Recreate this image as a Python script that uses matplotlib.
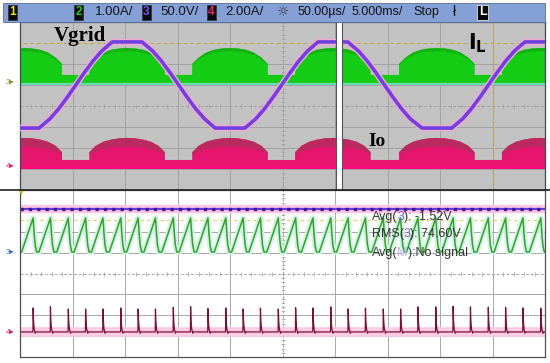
import matplotlib.pyplot as plt
from matplotlib.patches import Rectangle

# header bar of the scope screen
badge_labels = ['1', '2', '3', '4']
badge_x = [8, 74, 142, 207]
badge_colors = ['#e8e020', '#22cc22', '#7a55ee', '#ee2277']
scale_texts = ['1.00A/', '50.0V/', '2.00A/']
scale_x = [95, 160, 225]
time_texts = ['50.00\u00b5s/', '5.000ms/', 'Stop']
time_x = [298, 352, 413]

# upper panel, in divisions (10 x 8, centre = 0)
hump_centers = [0.08, 2.04, 4.00, 5.96, 7.94, 9.90]
hump_dx = [-0.72, -0.60, -0.45, -0.30, -0.15, 0.0, 0.15, 0.30, 0.45, 0.60, 0.72]
il_base, il_flat = 1.10, 1.48
il_hump = [2.00, 2.30, 2.55, 2.68, 2.74, 2.76, 2.74, 2.68, 2.55, 2.30, 2.00]
io_base, io_flat = -2.90, -2.57
io_hump = [-2.20, -1.90, -1.70, -1.60, -1.54, -1.52, -1.54, -1.60, -1.70, -1.90, -2.20]

vg_extremes = [0.08, 2.04, 4.00, 5.96, 7.94, 9.90]   # trough, peak, trough ...
vg_dx = [0.284, 0.491, 0.655, 0.819, 0.983, 1.146, 1.31, 1.474]
vg_fall = [3.05, 2.61, 2.14, 1.59, 1.00, 0.41, -0.14, -0.61]
vg_top, vg_bot = 3.05, -1.05

# lower panel (zoomed view)
tooth_peaks = [0.25, 0.58, 0.92, 1.25, 1.58, 1.92, 2.25, 2.58, 2.92, 3.25,
               3.58, 3.92, 4.25, 4.58, 4.92, 5.25, 5.58, 5.92, 6.25, 6.58,
               6.92, 7.25, 7.58, 7.92, 8.25, 8.58, 8.92, 9.25, 9.58, 9.92]
saw_low, saw_high = 1.03, 2.66
saw_dx = [-0.219, 0.0, 0.02, 0.04, 0.067]
saw_y = [saw_low, saw_high, 1.90, 1.35, saw_low]
spike_base = -2.80
spike_tops = [-1.65, -1.59, -1.70, -1.70, -1.70, -1.65, -1.70, -1.70, -1.62, -1.59,
              -1.68, -1.65, -1.70, -1.66, -1.70, -1.64, -1.65, -1.60, -1.70, -1.66,
              -1.70, -1.70, -1.60, -1.60, -1.57, -1.60, -1.62, -1.62, -1.65, -1.66]
spike_dx = [-0.004, 0.0, 0.008, 0.02, 0.04, 0.055]
vdc_level = 3.09

meas_lines = [[('Avg(', '#333333'), ('3', '#8a5ae0'), ('): -1.52V', '#333333')],
              [('RMS(', '#333333'), ('3', '#8a5ae0'), ('): 74.60V', '#333333')],
              [('Avg(', '#333333'), ('M', '#c8b0f0'), ('):No signal', '#333333')]]
meas_y = [2.70, 1.89, 0.98]

SANS = ['Liberation Sans', 'DejaVu Sans']


def envelope(hump, flat):
    xs, ys = [], []
    for c in hump_centers:
        xs += [c + hump_dx[0]]
        ys += [flat]
        xs += [c + d for d in hump_dx]
        ys += hump
        xs += [c + hump_dx[-1]]
        ys += [flat]
    return xs, ys


def grid(ax, gridc):
    for i in range(1, 10):
        if i != 5:
            ax.axvline(i, color=gridc, lw=0.7, zorder=0.5)
    for j in range(-3, 4):
        if j != 0:
            ax.axhline(j, color=gridc, lw=0.7, zorder=0.5)
    ax.axhline(0, color=gridc, lw=0.7, ls=(0, (3, 2)), zorder=0.5)
    ax.axvline(5, color=gridc, lw=0.7, ls=(0, (3, 2)), zorder=0.5)
    tx = [k * 0.2 for k in range(51)]
    ty = [k * 0.2 - 4 for k in range(41)]
    ax.plot(tx, [0] * len(tx), ls='none', marker='|', ms=3, mew=0.6, color=gridc, zorder=0.5)
    ax.plot([5] * len(ty), ty, ls='none', marker='_', ms=3, mew=0.6, color=gridc, zorder=0.5)
    ax.set_xlim(0, 10)
    ax.set_ylim(-4, 4)
    ax.set_xticks([])
    ax.set_yticks([])


fig = plt.figure(figsize=(5.5, 3.63), dpi=100)
fig.patch.set_facecolor('white')

# ---------------- upper panel ----------------
ax1 = fig.add_axes([20 / 550, 173 / 363, 525 / 550, 168 / 363])
ax1.set_facecolor('#c2c2c2')
grid(ax1, '#a2a2a2')
for s in ax1.spines.values():
    s.set_color('#3c4a5a')
    s.set_linewidth(0.9)

ax1.axhline(3.0, color='#e2c24a', lw=0.8, ls=(0, (3, 3)), zorder=0.6)
ax1.axvline(9.03, color='#e2c24a', lw=0.8, ls=(0, (3, 3)), zorder=0.6)

gx, gy = envelope(il_hump, il_flat)
ax1.fill_between(gx, il_base, gy, color='#14cc14', lw=0, zorder=2)
ax1.fill_between(gx, [y - 0.12 * max(y - il_flat, 0) for y in gy], gy,
                 color='#10a810', lw=0, alpha=0.7, zorder=2)
ax1.axhline(il_base - 0.04, color='#5fe0b0', lw=1.4, zorder=2)

px, py = envelope(io_hump, io_flat)
ax1.fill_between(px, io_base, py, color='#e6166e', lw=0, zorder=2)
ax1.fill_between(px, [y - 0.4 * max(y - io_flat, 0) for y in py], py,
                 color='#b02e5c', lw=0, alpha=0.8, zorder=2)
ax1.axhline(io_base, color='#ff0a78', lw=2.2, zorder=2.1)

vx, vy = [], []
for i, c in enumerate(vg_extremes):
    level = vg_bot if i % 2 == 0 else vg_top
    seg = [2.0 - v for v in vg_fall] if i % 2 == 0 else vg_fall
    vx += [c - vg_dx[0]]
    vy += [level]
    vx += [c + d for d in vg_dx]
    vy += seg
ax1.plot(vx, vy, color='#f2aad2', lw=4.6, solid_joinstyle='round', zorder=3)
ax1.plot(vx, vy, color='#7040e0', lw=2.6, solid_joinstyle='round', zorder=3.1)

ax1.axvspan(6.02, 6.13, facecolor='white', edgecolor='#555555', lw=0.8, zorder=4)

ax1.text(1.14, 3.33, 'Vgrid', family='Liberation Serif', weight='bold', fontsize=15,
         ha='center', va='center', color='black', zorder=5)
ax1.text(8.72, 3.0, r'$\mathbf{I}_{\mathbf{L}}$', fontsize=15, ha='center', va='center',
         color='black', zorder=5)
ax1.text(6.80, -1.67, 'Io', family='Liberation Serif', weight='bold', fontsize=14,
         ha='center', va='center', color='black', zorder=5)

# ---------------- lower panel ----------------
ax2 = fig.add_axes([20 / 550, 6 / 363, 525 / 550, 167 / 363])
ax2.set_facecolor('white')
grid(ax2, '#a8a8a8')
for s in ax2.spines.values():
    s.set_color('#505050')
    s.set_linewidth(0.9)
ax2.axhline(2.56, color='#e8cc55', lw=0.8, ls=(0, (3, 3)), zorder=0.6)

ax2.axhline(vdc_level, color='#ffc6e4', lw=6, zorder=1)
ax2.axhline(vdc_level, color='#6a3ad8', lw=1.6, zorder=2)
ax2.axhline(vdc_level, color='#3a1aa0', lw=2.4, ls=(0, (1, 1.5)), zorder=2.1)

sx, sy = [0.0], [saw_low]
for p in tooth_peaks:
    sx += [p + d for d in saw_dx]
    sy += saw_y
sx += [10.0]
sy += [saw_low]
ax2.plot(sx, sy, color='#cdf4e4', lw=4, zorder=1.5)
ax2.plot(sx, sy, color='#3a9e28', lw=1.1, zorder=2)

ax2.axhline(spike_base, color='#ffcce8', lw=7, zorder=1)
kx, ky = [0.0], [spike_base]
for p, t in zip(tooth_peaks, spike_tops):
    kx += [p + d for d in spike_dx]
    ky += [spike_base, t, spike_base + 0.55, spike_base + 0.15, spike_base - 0.06, spike_base]
kx += [10.0]
ky += [spike_base]
ax2.plot(kx, ky, color='#7a1038', lw=0.9, zorder=2)

for line, y in zip(meas_lines, meas_y):
    t = ax2.text(6.70, y, line[0][0], color=line[0][1], fontsize=9, family=SANS,
                 va='center', ha='left', zorder=5)
    for s, c in line[1:]:
        t = ax2.annotate(s, xy=(1, 0), xycoords=t, va='bottom', ha='left',
                         color=c, fontsize=9, family=SANS, zorder=5)

# ---------------- overlay in pixel units ----------------
bg = fig.add_axes([0, 0, 1, 1], zorder=10)
bg.set_xlim(0, 550)
bg.set_ylim(363, 0)
bg.axis('off')
bg.patch.set_alpha(0)

bg.add_patch(Rectangle((3, 3), 542, 18.5, facecolor='#84a0d6', edgecolor='#5a6e98', lw=0.6))
for lab, x, c in zip(badge_labels, badge_x, badge_colors):
    bg.add_patch(Rectangle((x, 4.5), 9, 15, facecolor='#0a0a0a', edgecolor='#333333', lw=0.5))
    bg.text(x + 4.5, 12.3, lab, color=c, fontsize=8.5, weight='bold', family=SANS,
            ha='center', va='center')
for s, x in zip(scale_texts, scale_x):
    bg.text(x, 12.3, s, fontsize=9.5, family=SANS, color='#141414', va='center')
bg.text(283, 12.3, '\u263c', fontsize=10, family=['DejaVu Sans'], color='#3a3a3a',
        ha='center', va='center')
for s, x in zip(time_texts, time_x):
    bg.text(x, 12.3, s, fontsize=9, family=SANS, color='#141414', va='center')
bg.text(455, 12.3, '\u0142', fontsize=10, family=SANS, color='#141414', ha='center', va='center')
bg.add_patch(Rectangle((477, 4.5), 11, 15, facecolor='#0a0a0a', edgecolor='#dddddd', lw=0.6))
bg.text(482.5, 12.3, 'L', fontsize=9, weight='bold', family=SANS, color='white',
        ha='center', va='center')

bg.plot([0, 550], [190, 190], color='#202020', lw=1.2)

# channel ground markers on the left edge
bg.text(10, 83, '3\u25b8', fontsize=6, family=SANS, color='#8a8a2a', ha='center', va='center')
bg.text(10, 167, '4\u25b8', fontsize=6, family=SANS, color='#dd2266', ha='center', va='center')
bg.text(10, 252, '3\u25b8', fontsize=6, family=SANS, color='#4466cc', ha='center', va='center')
bg.text(10, 332, '4\u25b8', fontsize=6, family=SANS, color='#cc2266', ha='center', va='center')
bg.text(21, 193, '\u25bc', fontsize=5, family=SANS, color='#d8c020', ha='center', va='center')

fig.savefig('out.png', dpi=100)
